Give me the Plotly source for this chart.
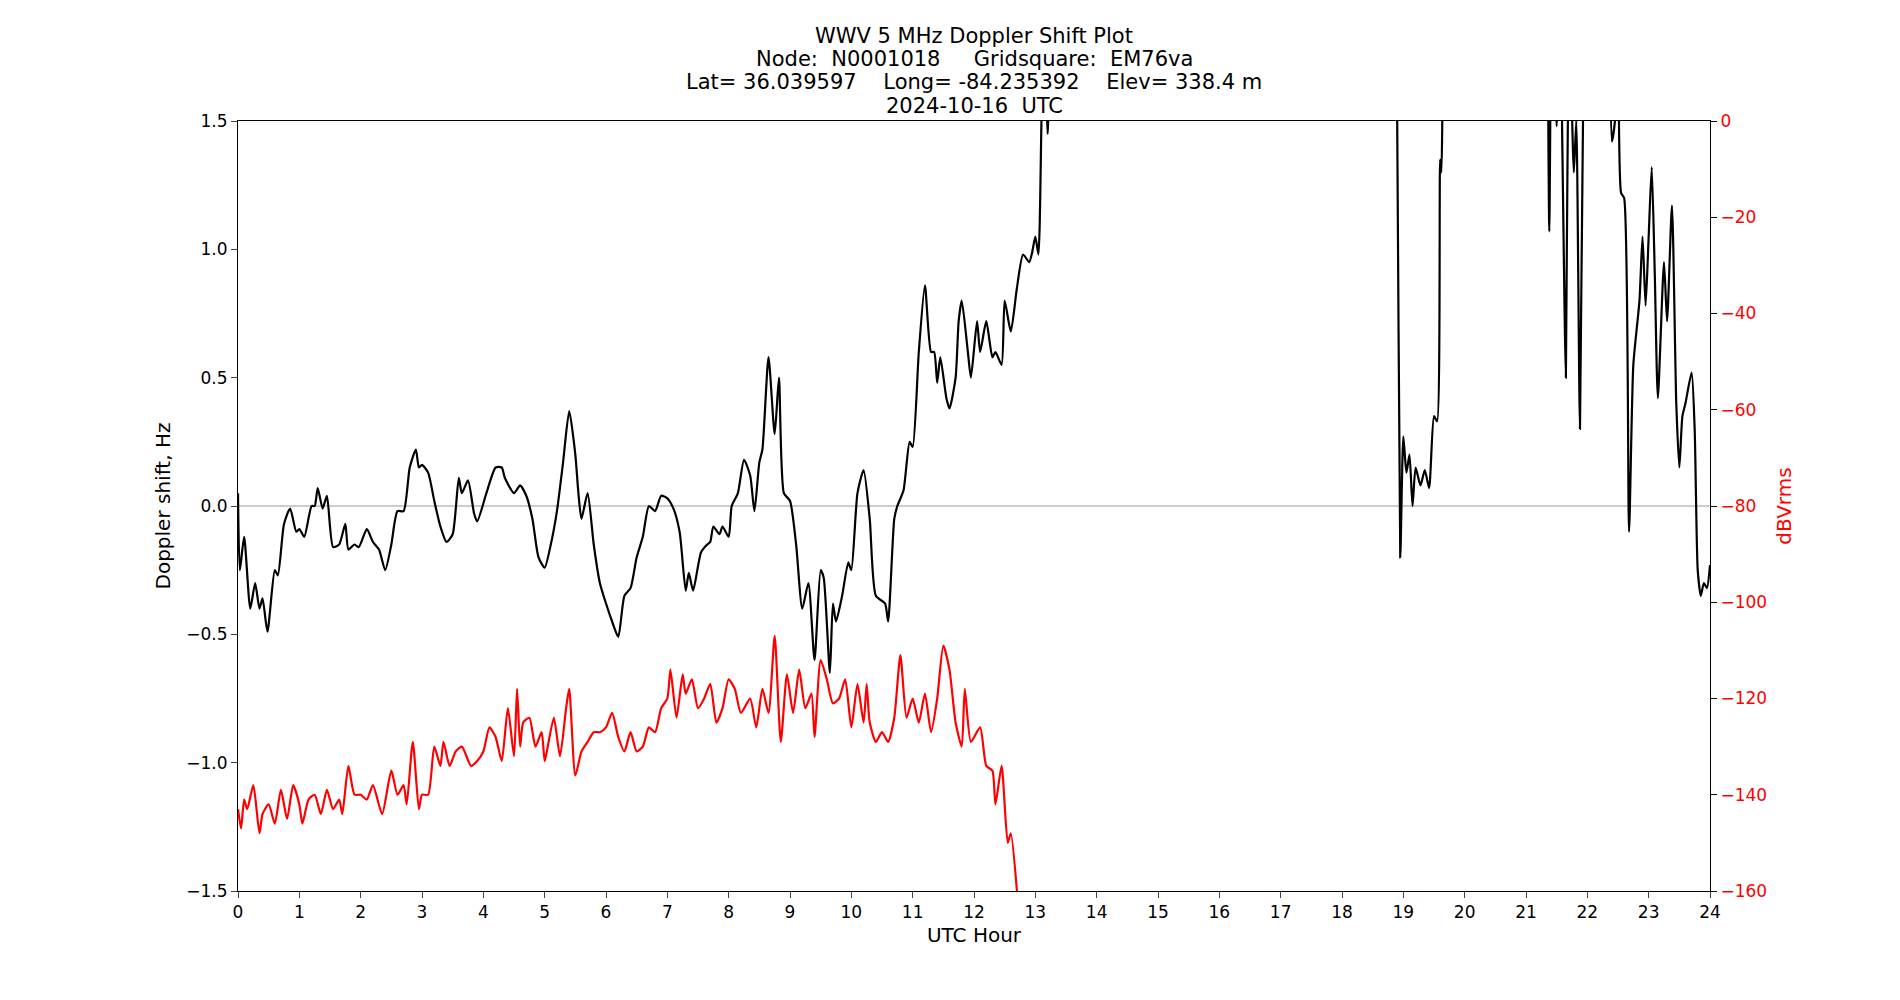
import plotly.graph_objects as go

dop_x = [0,0.03,0.1,0.2,0.28,0.35,0.4,0.48,0.6,0.65,0.75,0.85,0.95,1.0,1.08,1.2,1.25,1.3,1.38,1.45,1.55,1.65,1.75,1.8,1.9,1.97,2.1,2.2,2.3,2.4,2.5,2.6,2.7,2.8,2.9,2.95,3.0,3.1,3.2,3.3,3.4,3.5,3.6,3.65,3.75,3.85,3.9,4.05,4.2,4.3,4.35,4.5,4.6,4.7,4.8,4.9,5.0,5.1,5.2,5.3,5.4,5.5,5.55,5.6,5.7,5.8,5.9,6.0,6.1,6.2,6.3,6.4,6.5,6.6,6.7,6.8,6.9,7.0,7.1,7.2,7.3,7.35,7.42,7.55,7.65,7.7,7.75,7.85,7.9,8.0,8.05,8.15,8.25,8.35,8.42,8.5,8.55,8.65,8.75,8.82,8.9,9.0,9.1,9.2,9.3,9.4,9.5,9.55,9.65,9.7,9.75,9.85,9.95,10.0,10.1,10.2,10.3,10.4,10.55,10.6,10.7,10.75,10.85,10.95,11.0,11.1,11.2,11.3,11.35,11.4,11.45,11.55,11.6,11.7,11.75,11.8,11.9,11.95,12.05,12.1,12.2,12.3,12.35,12.45,12.5,12.6,12.7,12.8,12.9,12.95,13.0,13.05,13.1,13.15,13.2,13.25,13.3,
         18.85,18.9,18.95,19.0,19.05,19.1,19.15,19.2,19.28,19.35,19.42,19.5,19.55,19.6,19.62,19.65,19.7,
         21.35,21.38,21.42,21.5,21.55,21.65,21.7,21.78,21.82,21.88,21.95,22.0,
         22.35,22.4,22.45,22.5,22.55,22.6,22.68,22.75,22.85,22.9,22.95,23.0,23.05,23.1,23.15,23.25,23.3,23.38,23.45,23.5,23.55,23.6,23.7,23.75,23.8,23.85,23.9,23.95,24.0]
dop_y = [0.05,-0.25,-0.12,-0.4,-0.3,-0.4,-0.36,-0.49,-0.25,-0.27,-0.07,-0.01,-0.1,-0.09,-0.12,0.0,0.0,0.07,-0.01,0.04,-0.16,-0.15,-0.07,-0.17,-0.15,-0.16,-0.09,-0.14,-0.17,-0.25,-0.15,-0.02,-0.02,0.15,0.22,0.15,0.16,0.13,0.02,-0.08,-0.14,-0.11,0.11,0.05,0.1,-0.03,-0.06,0.05,0.15,0.15,0.11,0.05,0.08,0.04,-0.05,-0.2,-0.24,-0.15,-0.02,0.17,0.37,0.2,0.05,-0.05,0.05,-0.15,-0.3,-0.38,-0.45,-0.51,-0.35,-0.32,-0.2,-0.12,0.0,-0.02,0.04,0.03,-0.01,-0.1,-0.33,-0.26,-0.33,-0.18,-0.15,-0.14,-0.08,-0.11,-0.08,-0.12,0.0,0.05,0.18,0.12,-0.02,0.17,0.22,0.58,0.28,0.5,0.05,0.02,-0.15,-0.4,-0.3,-0.6,-0.25,-0.28,-0.65,-0.38,-0.45,-0.35,-0.22,-0.25,0.05,0.14,-0.05,-0.35,-0.38,-0.45,-0.05,0.0,0.06,0.25,0.23,0.6,0.86,0.6,0.6,0.48,0.58,0.42,0.38,0.5,0.72,0.8,0.6,0.5,0.72,0.6,0.72,0.58,0.6,0.55,0.8,0.68,0.85,0.98,0.95,0.99,1.05,0.98,1.5,2.0,1.45,2.0,None,
         2.0,1.5,-0.2,0.27,0.13,0.2,0.0,0.15,0.08,0.14,0.07,0.35,0.33,1.35,1.3,2.0,None,
         2.0,1.07,2.0,1.48,2.0,0.5,2.0,1.3,1.5,0.3,2.0,None,
         2.0,1.42,1.5,2.0,1.22,1.2,-0.1,0.55,0.8,1.05,0.78,1.05,1.32,0.9,0.42,0.95,0.72,1.17,0.4,0.15,0.35,0.4,0.52,0.3,-0.25,-0.35,-0.3,-0.32,-0.23]

rms_x = [0,0.05,0.1,0.15,0.25,0.35,0.4,0.5,0.6,0.7,0.8,0.9,1.0,1.05,1.15,1.25,1.35,1.45,1.55,1.65,1.7,1.8,1.9,2.0,2.1,2.2,2.35,2.5,2.6,2.7,2.75,2.85,2.95,3.0,3.1,3.2,3.3,3.35,3.45,3.55,3.65,3.8,3.9,4.0,4.1,4.2,4.3,4.4,4.5,4.55,4.6,4.65,4.75,4.85,4.95,5.0,5.05,5.15,5.25,5.35,5.4,5.5,5.6,5.7,5.8,5.9,6.0,6.1,6.2,6.3,6.4,6.5,6.6,6.7,6.8,6.9,7.0,7.05,7.15,7.25,7.3,7.4,7.5,7.6,7.7,7.8,7.9,8.0,8.1,8.2,8.35,8.45,8.55,8.65,8.75,8.85,8.95,9.05,9.15,9.25,9.35,9.4,9.5,9.6,9.7,9.8,9.9,10.0,10.1,10.2,10.25,10.3,10.4,10.5,10.6,10.7,10.8,10.9,11.0,11.1,11.2,11.3,11.4,11.5,11.6,11.7,11.8,11.85,11.95,12.1,12.2,12.3,12.35,12.45,12.55,12.6,12.7]
rms_y = [-143,-147,-141,-143,-138,-148,-144,-142,-146,-139,-145,-138,-142,-146,-141,-140,-144,-139,-143,-141,-144,-134,-140,-140,-141,-138,-144,-135,-140,-138,-142,-129,-143,-140,-140,-130,-134,-129,-134,-131,-130,-134,-133,-131,-126,-128,-133,-122,-132,-118,-130,-125,-124,-130,-127,-133,-130,-124,-132,-122,-118,-136,-131,-129,-127,-127,-126,-123,-128,-131,-127,-131,-130,-126,-127,-122,-120,-114,-124,-115,-119,-116,-122,-120,-117,-125,-122,-116,-118,-123,-120,-126,-118,-123,-107,-129,-115,-123,-114,-122,-119,-128,-112,-116,-121,-120,-116,-126,-117,-125,-117,-125,-129,-127,-129,-124,-111,-124,-120,-125,-119,-127,-120,-109,-114,-125,-130,-118,-129,-126,-134,-135,-142,-134,-150,-148,-160]

x_ticks = list(range(25))
title_lines = ["WWV 5 MHz Doppler Shift Plot",
               "Node:  N0001018     Gridsquare:  EM76va",
               "Lat= 36.039597    Long= -84.235392    Elev= 338.4 m",
               "2024-10-16  UTC"]

fig = go.Figure()
fig.add_trace(go.Scatter(x=[0, 24], y=[0, 0], mode="lines",
                         line=dict(color="#999999", width=1.2), hoverinfo="skip"))
fig.add_trace(go.Scatter(x=dop_x, y=dop_y, mode="lines", connectgaps=False,
                         line=dict(color="black", width=2.2, shape="spline", smoothing=0.6)))
fig.add_trace(go.Scatter(x=rms_x, y=rms_y, mode="lines", yaxis="y2",
                         line=dict(color="red", width=2.2, shape="spline", smoothing=0.6)))

title_y = [1.110, 1.081, 1.051, 1.020]
for txt, ty in zip(title_lines, title_y):
    fig.add_annotation(text=txt, x=0.5, y=ty, xref="paper", yref="paper",
                       xanchor="center", yanchor="middle", showarrow=False,
                       font=dict(family="DejaVu Sans", size=21, color="black"))

font = dict(family="DejaVu Sans", size=17, color="black")
fig.update_layout(
    width=1900, height=1000, showlegend=False,
    paper_bgcolor="white", plot_bgcolor="white",
    font=font,
    margin=dict(l=230, r=198, t=113, b=117),
    xaxis=dict(range=[0, 24], tickvals=x_ticks, ticks="outside", ticklen=6,
               showgrid=False, zeroline=False, showline=True, linecolor="black",
               mirror=True, title=dict(text="UTC Hour", standoff=6)),
    yaxis=dict(range=[-1.5, 1.5], tickvals=[-1.5, -1.0, -0.5, 0.0, 0.5, 1.0, 1.5],
               ticktext=["\u22121.5", "\u22121.0", "\u22120.5", "0.0", "0.5", "1.0", "1.5"],
               ticks="outside", ticklen=6, showgrid=False, zeroline=False,
               showline=True, linecolor="black", title=dict(text="Doppler shift, Hz", standoff=10)),
    yaxis2=dict(range=[-160, 0], overlaying="y", side="right",
                tickvals=[-160, -140, -120, -100, -80, -60, -40, -20, 0],
                ticktext=["\u2212160", "\u2212140", "\u2212120", "\u2212100", "\u221280", "\u221260", "\u221240", "\u221220", "0"],
                ticks="outside", ticklen=6, tickcolor="black", showgrid=False, zeroline=False,
                showline=True, linecolor="black", tickfont=dict(color="red"),
                title=dict(text="dBVrms", font=dict(color="red"), standoff=10)),
)
fig.write_html("out.html")
